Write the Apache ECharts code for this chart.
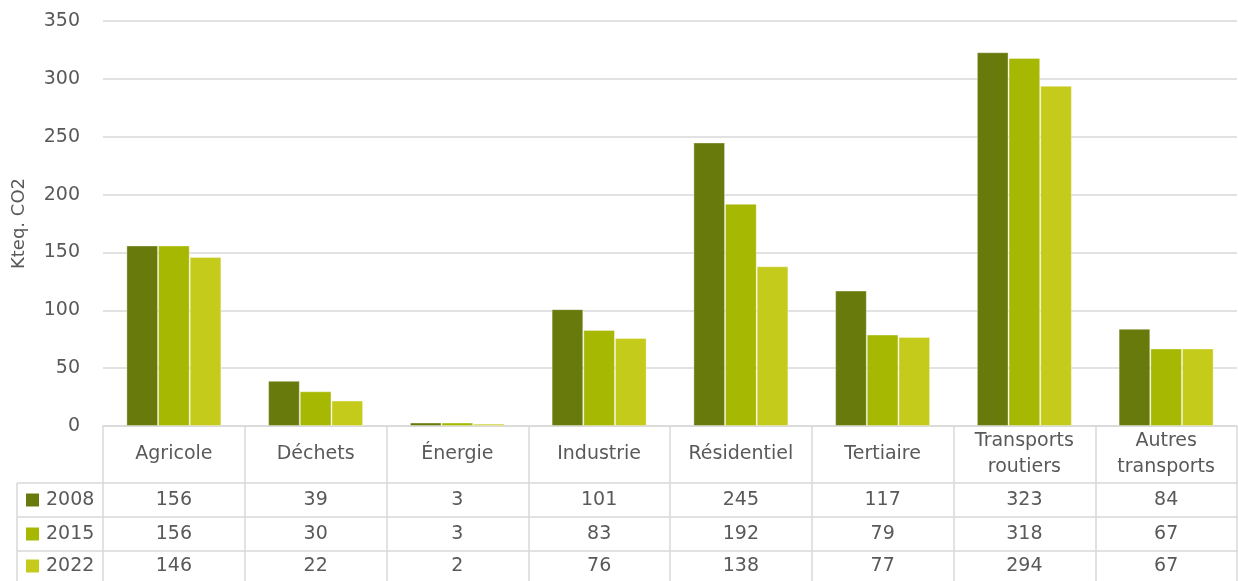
<!DOCTYPE html>
<html>
<head>
<meta charset="utf-8">
<script src="https://cdn.jsdelivr.net/npm/echarts@6/dist/echarts.min.js"></script>
<style>
  html, body { margin: 0; padding: 0; background: #fff; }
  #chart { width: 1238px; height: 581px; }
</style>
</head>
<body>
<div id="chart"></div>
<script>
// Émissions de GES par secteur (kteq. CO2)
const categories = ['Agricole', 'Déchets', 'Énergie', 'Industrie', 'Résidentiel', 'Tertiaire', 'Transports\nroutiers', 'Autres\ntransports'];
const years = ['2008', '2015', '2022'];
const values2008 = [156, 39, 3, 101, 245, 117, 323, 84];
const values2015 = [156, 30, 3, 83, 192, 79, 318, 67];
const values2022 = [146, 22, 2, 76, 138, 77, 294, 67];
const yTicks = [0, 50, 100, 150, 200, 250, 300, 350];

const seriesValues = [values2008, values2015, values2022];
const colors = ['#687a0c', '#a6b801', '#c4cb1b'];
const textColor = '#595959';
const lineColor = '#d9d9d9';
const font = 'DejaVu Sans';
const fs = 19;

const gridLeft = 103, gridTop = 21, gridBottom = 155, gridRight = 1;
const W = 1238, H = 581;
const axisY = H - gridBottom;
const rowLines = [483, 517, 551];
const rowCenters = [500, 534, 566];

const chart = echarts.init(document.getElementById('chart'), null, { renderer: 'canvas' });

// main category axis holds the header row of the table; extra axes carry the value rows
const xAxes = [{
  type: 'category',
  data: categories,
  position: 'bottom',
  boundaryGap: true,
  axisLine: { show: true, lineStyle: { color: lineColor, width: 1.5 } },
  axisTick: { show: true, length: gridBottom, lineStyle: { color: lineColor, width: 1.5 } },
  axisLabel: {
    color: textColor, fontFamily: font, fontSize: fs, margin: 28,
    verticalAlign: 'middle', lineHeight: 26, interval: 0
  }
}];
seriesValues.forEach((vals, r) => {
  xAxes.push({
    type: 'category',
    data: categories,
    position: 'bottom',
    offset: rowCenters[r] - axisY,
    axisLine: { show: false },
    axisTick: { show: false },
    axisLabel: {
      color: textColor, fontFamily: font, fontSize: fs, margin: 0,
      verticalAlign: 'middle', interval: 0,
      formatter: (v, i) => String(vals[i])
    }
  });
});

// table rules and the series keys in the left column
const graphics = [];
rowLines.forEach(y => {
  graphics.push({ type: 'line', shape: { x1: 17, y1: y, x2: W, y2: y }, style: { stroke: lineColor, lineWidth: 1.5 }, silent: true });
});
graphics.push({ type: 'line', shape: { x1: 17, y1: rowLines[0], x2: 17, y2: H }, style: { stroke: lineColor, lineWidth: 1.5 }, silent: true });
years.forEach((y, i) => {
  graphics.push({ type: 'rect', shape: { x: 26, y: rowCenters[i] - 6.5, width: 13, height: 13 }, style: { fill: colors[i] }, silent: true });
  graphics.push({ type: 'text', x: 46, y: rowCenters[i], style: { text: y, fill: textColor, font: fs + 'px "' + font + '"', verticalAlign: 'middle', align: 'left' }, silent: true });
});

chart.setOption({
  animation: false,
  backgroundColor: '#ffffff',
  textStyle: { fontFamily: font },
  grid: { left: gridLeft, right: gridRight, top: gridTop, bottom: gridBottom, containLabel: false },
  xAxis: xAxes,
  yAxis: {
    type: 'value',
    min: yTicks[0],
    max: yTicks[yTicks.length - 1],
    interval: 50,
    name: 'Kteq. CO2',
    nameLocation: 'middle',
    nameGap: 75,
    nameRotate: 90,
    nameTextStyle: { color: textColor, fontFamily: font, fontSize: 18 },
    axisLine: { show: false },
    axisTick: { show: false },
    axisLabel: { color: textColor, fontFamily: font, fontSize: fs, margin: 23 },
    splitLine: { lineStyle: { color: lineColor, width: 1.5 } }
  },
  series: years.map((y, i) => ({
    name: y,
    type: 'bar',
    xAxisIndex: 0,
    data: seriesValues[i],
    barGap: '0%',
    barCategoryGap: '33%',
    itemStyle: { color: colors[i], borderColor: 'rgba(255,255,255,0.35)', borderWidth: 1 }
  })),
  graphic: graphics
});
</script>
</body>
</html>
